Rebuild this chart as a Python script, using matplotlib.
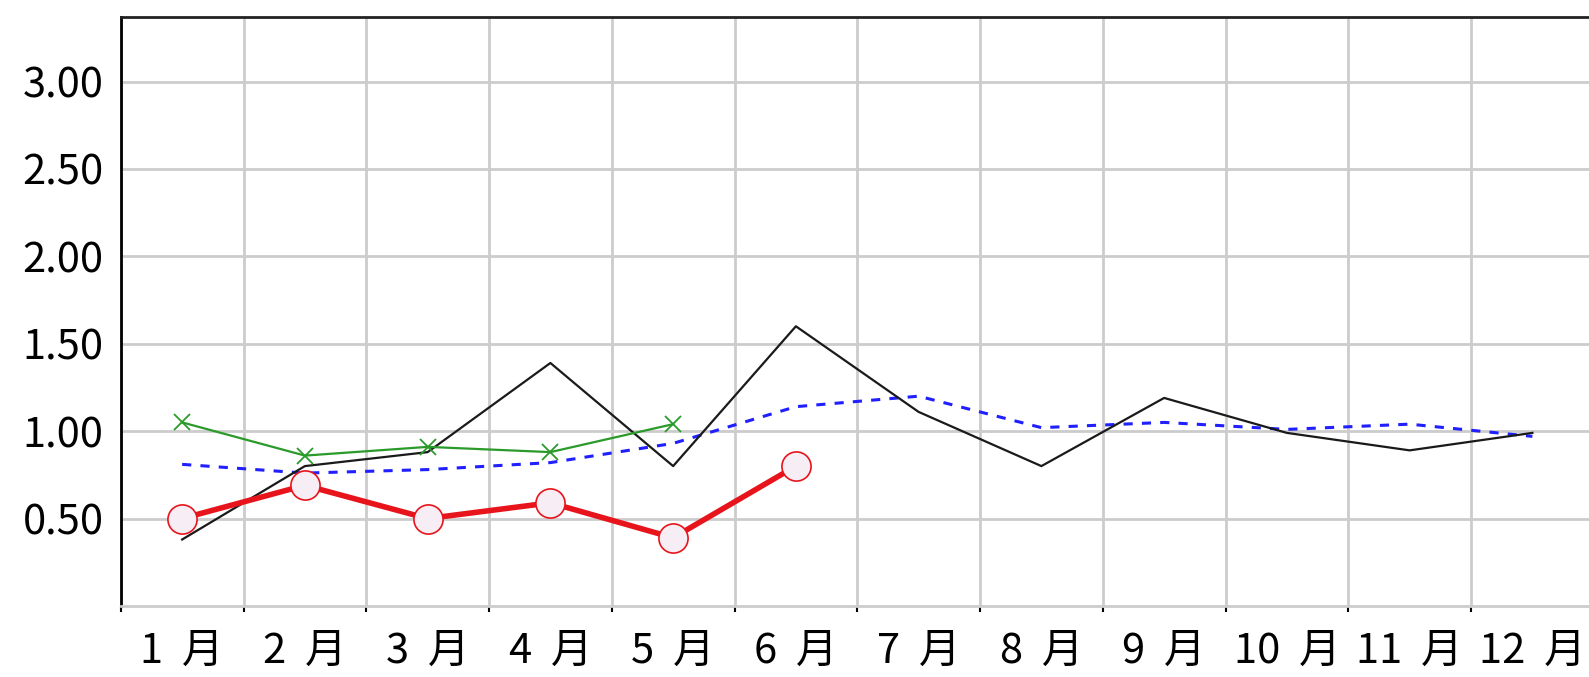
import matplotlib
matplotlib.use("Agg")
import matplotlib.pyplot as plt
from matplotlib.ticker import FixedLocator, NullFormatter, FixedFormatter

plt.rcParams['font.family'] = ['Noto Sans CJK JP', 'DejaVu Sans']

months = ["1  月", "2  月", "3  月", "4  月", "5  月", "6  月",
          "7  月", "8  月", "9  月", "10  月", "11  月", "12  月"]
black_vals = [0.38, 0.80, 0.88, 1.39, 0.80, 1.60, 1.11, 0.80, 1.19, 0.99, 0.89, 0.99]
blue_vals = [0.81, 0.76, 0.78, 0.82, 0.93, 1.14, 1.20, 1.02, 1.05, 1.01, 1.04, 0.97]
green_vals = [1.05, 0.86, 0.91, 0.88, 1.04]
red_vals = [0.50, 0.69, 0.50, 0.59, 0.39, 0.80]
y_ticks = [0.5, 1.0, 1.5, 2.0, 2.5, 3.0]

fig = plt.figure(figsize=(15.89, 6.77), dpi=100)
ax = fig.add_axes([0.076, 0.105, 0.927, 0.870])

xc = [i + 0.5 for i in range(12)]

ax.plot(xc[:len(black_vals)], black_vals, color='#1a1a1a', lw=1.6, zorder=4)
ax.plot(xc[:len(blue_vals)], blue_vals, color='#1f1fff', lw=2.2,
        linestyle=(0, (3, 3)), zorder=3)
ax.plot(xc[:len(green_vals)], green_vals, color='#2a9a2a', lw=1.6,
        marker='x', ms=11, mew=1.3, zorder=5)
ax.plot(xc[:len(red_vals)], red_vals, color='#e8141c', lw=4.0,
        marker='o', ms=21, mfc='#f6eef4', mec='#e8141c', mew=1.2, zorder=6)

ax.set_xlim(0, 12)
ax.set_ylim(0, 3.37)

ax.xaxis.set_major_locator(FixedLocator(list(range(13))))
ax.xaxis.set_major_formatter(NullFormatter())
ax.xaxis.set_minor_locator(FixedLocator(xc))
ax.xaxis.set_minor_formatter(FixedFormatter(months))
ax.tick_params(axis='x', which='major', length=4, width=1.5, color='black', direction='out')
ax.tick_params(axis='x', which='minor', length=0, pad=18, labelsize=30)

ax.set_yticks(y_ticks)
ax.set_yticklabels([f"{v:.2f}" for v in y_ticks])
ax.tick_params(axis='y', length=0, pad=12.5, labelsize=30)

ax.grid(True, which='major', color='#cccccc', lw=2)
ax.set_axisbelow(True)

ax.spines['left'].set_color('black')
ax.spines['left'].set_linewidth(2)
ax.spines['top'].set_color('#222222')
ax.spines['top'].set_linewidth(2)
ax.spines['bottom'].set_color('#cccccc')
ax.spines['bottom'].set_linewidth(2)
ax.spines['right'].set_visible(False)

fig.savefig("out.png", dpi=100)
